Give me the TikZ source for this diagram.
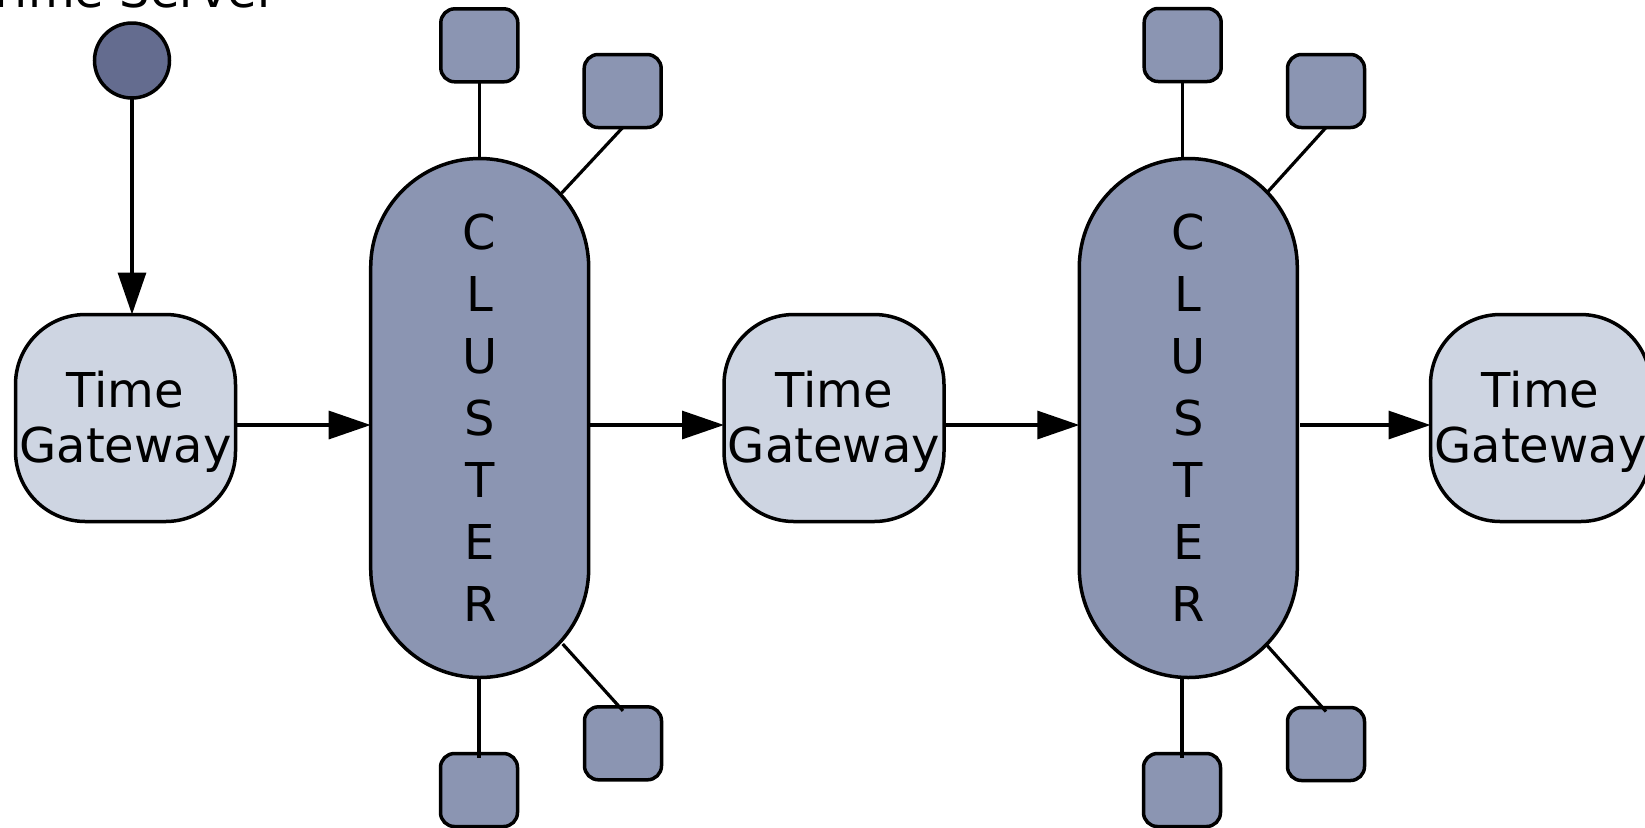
\documentclass[tikz,border=0pt]{standalone}
\usepackage{fontspec}
\setmainfont{DejaVu Sans}
\usetikzlibrary{arrows.meta,calc}
\definecolor{serverfill}{RGB}{100,108,143}
\definecolor{clusterfill}{RGB}{139,149,178}
\definecolor{gatefill}{RGB}{206,213,226}
\begin{document}
\begin{tikzpicture}[x=0.5pt,y=-0.5pt,
  every node/.style={inner sep=0pt, outer sep=0pt},
  lbl/.style={font=\fontsize{24}{27.5}\selectfont},
  server/.style={circle, draw, line width=1.75pt, fill=serverfill, minimum size=37.5pt},
  gateway/.style={rectangle, draw, line width=1.75pt, fill=gatefill, rounded corners=35pt,
    minimum width=110pt, minimum height=103.5pt, align=center, font=\fontsize{24}{27.5}\selectfont},
  clusterbox/.style={rectangle, draw, line width=1.75pt, fill=clusterfill, rounded corners=54.5pt,
    minimum width=109pt, minimum height=259.5pt, align=center, font=\fontsize{24}{31}\selectfont},
  member/.style={rectangle, draw, line width=1.75pt, fill=clusterfill, rounded corners=7pt,
    minimum width=38.5pt, minimum height=36.5pt},
  arr/.style={line width=1.6pt, -{Triangle[length=21pt,width=14pt]}},
  link/.style={line width=1.6pt}]
\useasboundingbox (0,0) rectangle (1645,827);
\coordinate (c1ne) at (561.7,193);
\coordinate (c1se) at (562.7,644);
\coordinate (c2ne) at (1266.7,193);
\coordinate (c2se) at (1266.7,645);
% nodes
\node[lbl, anchor=base] (tslabel) at (132,7) {Time Server};
\node[server] (ts) at (132,60.5) {};
\node[gateway] (g1) at (125.5,418) {\rule{0pt}{21.5pt}Time\\Gateway};
\node[gateway] (g2) at (834,418) {\rule{0pt}{21.5pt}Time\\Gateway};
\node[gateway] (g3) at (1540.5,418) {\rule{0pt}{21.5pt}Time\\Gateway};
\node[member] (m1t) at (479.3,45.3) {};
\node[member] (m1tr) at (622.7,91) {};
\node[member] (m1br) at (623,743.3) {};
\node[member] (m1b) at (479,790) {};
\node[member] (m2t) at (1182.7,45) {};
\node[member] (m2tr) at (1326,91) {};
\node[member] (m2br) at (1326,744) {};
\node[member] (m2b) at (1182,790) {};
\node[clusterbox] (c1) at (479.7,418) {C\\L\\U\\S\\T\\E\\R};
\node[clusterbox] (c2) at (1188.3,418) {C\\L\\U\\S\\T\\E\\R};
% member links
\draw[link] (m1t.south) -- (m1t.south |- c1.north);
\draw[link] (m1tr.south) -- (c1ne);
\draw[link] (c1se) -- ([yshift=-2pt]m1br.north);
\draw[link] (c1.south -| m1b.north) -- ([yshift=-2pt]m1b.north);
\draw[link] (m2t.south) -- (m2t.south |- c2.north);
\draw[link] (m2tr.south) -- (c2ne);
\draw[link] (c2se) -- ([yshift=-2pt]m2br.north);
\draw[link] (c2.south -| m2b.north) -- ([yshift=-2pt]m2b.north);
% flow arrows
\draw[arr] (ts.south) -- (ts.south |- g1.north);
\draw[arr] ([yshift=-3.5pt]g1.east) -- ([yshift=-3.5pt]c1.west);
\draw[arr] ([yshift=-3.5pt]c1.east) -- ([yshift=-3.5pt]g2.west);
\draw[arr] ([yshift=-3.5pt]g2.east) -- ([yshift=-3.5pt]c2.west);
\draw[arr] ([yshift=-3.5pt,xshift=1.5pt]c2.east) -- ([yshift=-3.5pt]g3.west);
\end{tikzpicture}
\end{document}
